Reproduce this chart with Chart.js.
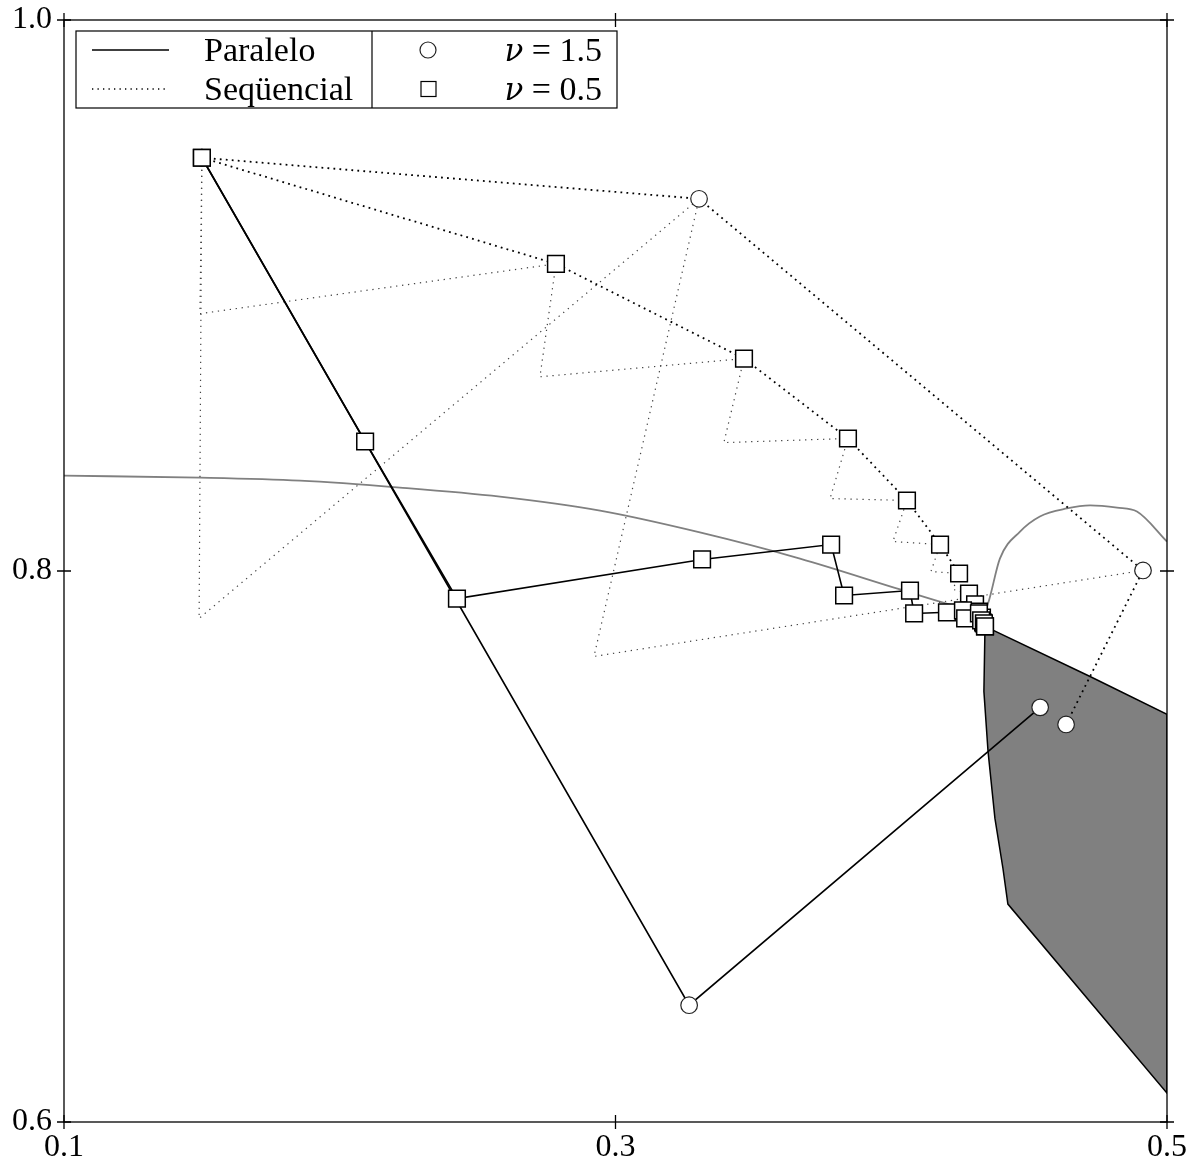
<!DOCTYPE html>
<html>
<head>
<meta charset="utf-8">
<script src="https://cdn.jsdelivr.net/npm/chart.js@4.4.1/dist/chart.umd.min.js"></script>
<style>
  html, body { margin: 0; padding: 0; background: #fff; }
  #grafico { display: block; }
</style>
</head>
<body>
<canvas id="grafico" width="1197" height="1167"></canvas>
<script>
// marcas dos eixos
const xTicks = [0.1, 0.3, 0.5];
const yTicks = [0.6, 0.8, 1.0];

// legenda
const legendaLinhas = ['Paralelo', 'Seqüencial'];
const legendaNu = ['1.5', '0.5'];

// curva cinza (fronteira)
const fronteira = [
  [0.1, 0.8346], [0.1493, 0.8339], [0.1856, 0.8328], [0.2218, 0.8303],
  [0.2581, 0.8270], [0.2944, 0.8219], [0.3306, 0.8140], [0.3669, 0.8045],
  [0.4032, 0.7933], [0.4213, 0.7878], [0.4333, 0.7846],
  [0.4351, 0.7882], [0.4394, 0.8045], [0.4467, 0.8143], [0.4539, 0.8198],
  [0.4637, 0.8227], [0.4721, 0.8238], [0.4819, 0.8230], [0.4891, 0.8216],
  [0.5, 0.8107]
];

// região sombreada
const regiao = [
  [0.4340, 0.7799], [0.4721, 0.7617], [0.5, 0.7480], [0.5, 0.6105],
  [0.4423, 0.6791], [0.4405, 0.6921], [0.4376, 0.7102], [0.4351, 0.7345],
  [0.4336, 0.7563], [0.4340, 0.7799]
];

// paralelo, nu = 0.5 (quadrados, linha cheia)
const paraleloNu05 = [
  [0.15, 0.95], [0.2092, 0.8470], [0.2425, 0.7900], [0.3314, 0.8042],
  [0.3782, 0.8096], [0.3829, 0.7911], [0.4068, 0.7929], [0.4083, 0.7846],
  [0.4202, 0.7850], [0.4260, 0.7857], [0.4268, 0.7828], [0.4318, 0.7846],
  [0.4326, 0.7821], [0.4336, 0.7810], [0.4340, 0.7799]
];

// sequencial, nu = 0.5 (quadrados, pontilhado)
const seqNu05 = [
  [0.15, 0.95], [0.2784, 0.9115], [0.3466, 0.8771], [0.3843, 0.8481],
  [0.4057, 0.8256], [0.4177, 0.8096], [0.4246, 0.7991], [0.4282, 0.7918],
  [0.4304, 0.7879], [0.4318, 0.7853], [0.4329, 0.7831], [0.4333, 0.7813],
  [0.4340, 0.7799]
];

// passos intermediarios do sequencial, nu = 0.5
const passosNu05 = [
  [0.15, 0.95], [0.1493, 0.8934], [0.2784, 0.9115], [0.2726, 0.8705],
  [0.3466, 0.8771], [0.3393, 0.8466], [0.3843, 0.8481], [0.3778, 0.8263],
  [0.4057, 0.8256], [0.4006, 0.8107], [0.4177, 0.8096], [0.4144, 0.7998],
  [0.4246, 0.7991], [0.4224, 0.7933], [0.4282, 0.7918]
];

// paralelo, nu = 1.5 (circulos, linha cheia)
const paraleloNu15 = [[0.15, 0.95], [0.3267, 0.6424], [0.4540, 0.7505]];

// sequencial, nu = 1.5 (circulos, pontilhado)
const seqNu15 = [[0.15, 0.95], [0.3303, 0.9351], [0.4913, 0.8002], [0.4634, 0.7443]];

// passos intermediarios do sequencial, nu = 1.5
const passosNu15 = [
  [0.15, 0.95], [0.1490, 0.7828], [0.3303, 0.9351], [0.2922, 0.7690], [0.4913, 0.8002]
];

const FONTE = "'Liberation Serif', 'DejaVu Serif', serif";
const pts = (arr) => arr.map(([x, y]) => ({ x, y }));
const PONTILHADO = [1.8, 4.2];
const PASSOS = [1.3, 4.7];

const quadrado = {
  pointStyle: 'rect', pointRadius: 11.8, pointBackgroundColor: '#fff',
  pointBorderColor: '#000', pointBorderWidth: 1.5
};
const circulo = {
  pointStyle: 'circle', pointRadius: 8.3, pointBackgroundColor: '#fff',
  pointBorderColor: '#222', pointBorderWidth: 1.2
};

// moldura com marcas cruzando os eixos
const moldura = {
  id: 'moldura',
  afterDraw(chart) {
    const { ctx, chartArea: a, scales } = chart;
    const t = 7;
    ctx.save();
    ctx.strokeStyle = '#000';
    ctx.lineWidth = 1.3;
    ctx.strokeRect(a.left, a.top, a.right - a.left, a.bottom - a.top);
    ctx.beginPath();
    xTicks.forEach(v => {
      const px = scales.x.getPixelForValue(v);
      ctx.moveTo(px, a.bottom - t); ctx.lineTo(px, a.bottom + t);
      ctx.moveTo(px, a.top - t); ctx.lineTo(px, a.top + t);
    });
    yTicks.forEach(v => {
      const py = scales.y.getPixelForValue(v);
      ctx.moveTo(a.left - t, py); ctx.lineTo(a.left + t, py);
      ctx.moveTo(a.right - t, py); ctx.lineTo(a.right + t, py);
    });
    ctx.stroke();
    ctx.restore();
  }
};

const legenda = {
  id: 'legenda',
  afterDraw(chart) {
    const ctx = chart.ctx;
    const L = 76, T = 31, R = 617, B = 108, D = 372;
    const linhas = [50, 89];
    ctx.save();
    ctx.fillStyle = '#fff';
    ctx.fillRect(L, T, R - L, B - T);
    ctx.strokeStyle = '#000';
    ctx.lineWidth = 1.2;
    ctx.strokeRect(L, T, R - L, B - T);
    ctx.beginPath(); ctx.moveTo(D, T); ctx.lineTo(D, B); ctx.stroke();

    // amostras de linha
    ctx.lineWidth = 1.6;
    ctx.beginPath(); ctx.moveTo(92, linhas[0]); ctx.lineTo(169, linhas[0]); ctx.stroke();
    ctx.setLineDash([1.3, 4.2]);
    ctx.lineWidth = 1.3;
    ctx.beginPath(); ctx.moveTo(92, linhas[1]); ctx.lineTo(169, linhas[1]); ctx.stroke();
    ctx.setLineDash([]);

    ctx.fillStyle = '#000';
    ctx.textBaseline = 'alphabetic';
    ctx.textAlign = 'left';
    ctx.font = `34px ${FONTE}`;
    legendaLinhas.forEach((s, i) => ctx.fillText(s, 204, linhas[i] + 11));

    // marcadores
    ctx.lineWidth = 1.2;
    ctx.beginPath(); ctx.arc(428, linhas[0], 8, 0, Math.PI * 2);
    ctx.fillStyle = '#fff'; ctx.fill(); ctx.strokeStyle = '#222'; ctx.stroke();
    ctx.fillRect(421, linhas[1] - 7.5, 15, 15);
    ctx.strokeStyle = '#000'; ctx.strokeRect(421, linhas[1] - 7.5, 15, 15);

    // nu = ...
    ctx.fillStyle = '#000';
    legendaNu.forEach((v, i) => {
      const resto = ' = ' + v;
      ctx.font = `34px ${FONTE}`;
      const w2 = ctx.measureText(resto).width;
      ctx.font = `italic 31px 'DejaVu Serif', serif`;
      const w1 = ctx.measureText('ν').width;
      const x0 = 602 - w1 - w2;
      ctx.fillText('ν', x0, linhas[i] + 11);
      ctx.font = `34px ${FONTE}`;
      ctx.fillText(resto, x0 + w1, linhas[i] + 11);
    });
    ctx.restore();
  }
};

const fonteTicks = { family: FONTE, size: 32, lineHeight: 1 };

new Chart(document.getElementById('grafico'), {
  type: 'scatter',
  data: {
    datasets: [
      { label: 'Paralelo 0.5', data: pts(paraleloNu05), showLine: true, order: 1,
        borderColor: '#000', borderWidth: 1.6, ...quadrado },
      { label: 'Seqüencial 0.5', data: pts(seqNu05), showLine: true, order: 2,
        borderColor: '#000', borderWidth: 1.8, borderDash: PONTILHADO, ...quadrado },
      { label: 'Paralelo 1.5', data: pts(paraleloNu15), showLine: true, order: 3,
        borderColor: '#000', borderWidth: 1.6, ...circulo },
      { label: 'Seqüencial 1.5', data: pts(seqNu15), showLine: true, order: 4,
        borderColor: '#000', borderWidth: 1.8, borderDash: PONTILHADO, ...circulo },
      { label: 'passos 0.5', data: pts(passosNu05), showLine: true, order: 5,
        borderColor: '#444', borderWidth: 1.2, borderDash: PASSOS, pointRadius: 0 },
      { label: 'passos 1.5', data: pts(passosNu15), showLine: true, order: 6,
        borderColor: '#444', borderWidth: 1.2, borderDash: PASSOS, pointRadius: 0 },
      { label: 'fronteira', data: pts(fronteira), showLine: true, order: 7,
        cubicInterpolationMode: 'monotone',
        borderColor: '#808080', borderWidth: 1.8, pointRadius: 0 },
      { label: 'regiao', data: pts(regiao), showLine: true, order: 8, fill: 'shape',
        backgroundColor: '#808080', borderColor: '#000', borderWidth: 1.5, pointRadius: 0 }
    ]
  },
  options: {
    responsive: false,
    animation: false,
    events: [],
    layout: { padding: { top: 20, right: 30, bottom: 0, left: 0 } },
    plugins: { legend: { display: false }, tooltip: { enabled: false } },
    scales: {
      x: {
        type: 'linear', min: 0.1, max: 0.5,
        afterBuildTicks: s => { s.ticks = xTicks.map(v => ({ value: v })); },
        afterFit: s => { s.height = 45; s.paddingLeft = 0; s.paddingRight = 0; },
        ticks: { callback: v => v.toFixed(1), font: fonteTicks, color: '#000',
                 padding: 10, maxRotation: 0, autoSkip: false },
        grid: { display: false, drawTicks: false },
        border: { display: false }
      },
      y: {
        type: 'linear', min: 0.6, max: 1.0,
        afterBuildTicks: s => { s.ticks = yTicks.map(v => ({ value: v })); },
        afterFit: s => { s.width = 64; s.paddingTop = 0; s.paddingBottom = 0; },
        ticks: { callback: v => v.toFixed(1), font: fonteTicks, color: '#000',
                 padding: 12, autoSkip: false },
        grid: { display: false, drawTicks: false },
        border: { display: false }
      }
    }
  },
  plugins: [moldura, legenda]
});
</script>
</body>
</html>
